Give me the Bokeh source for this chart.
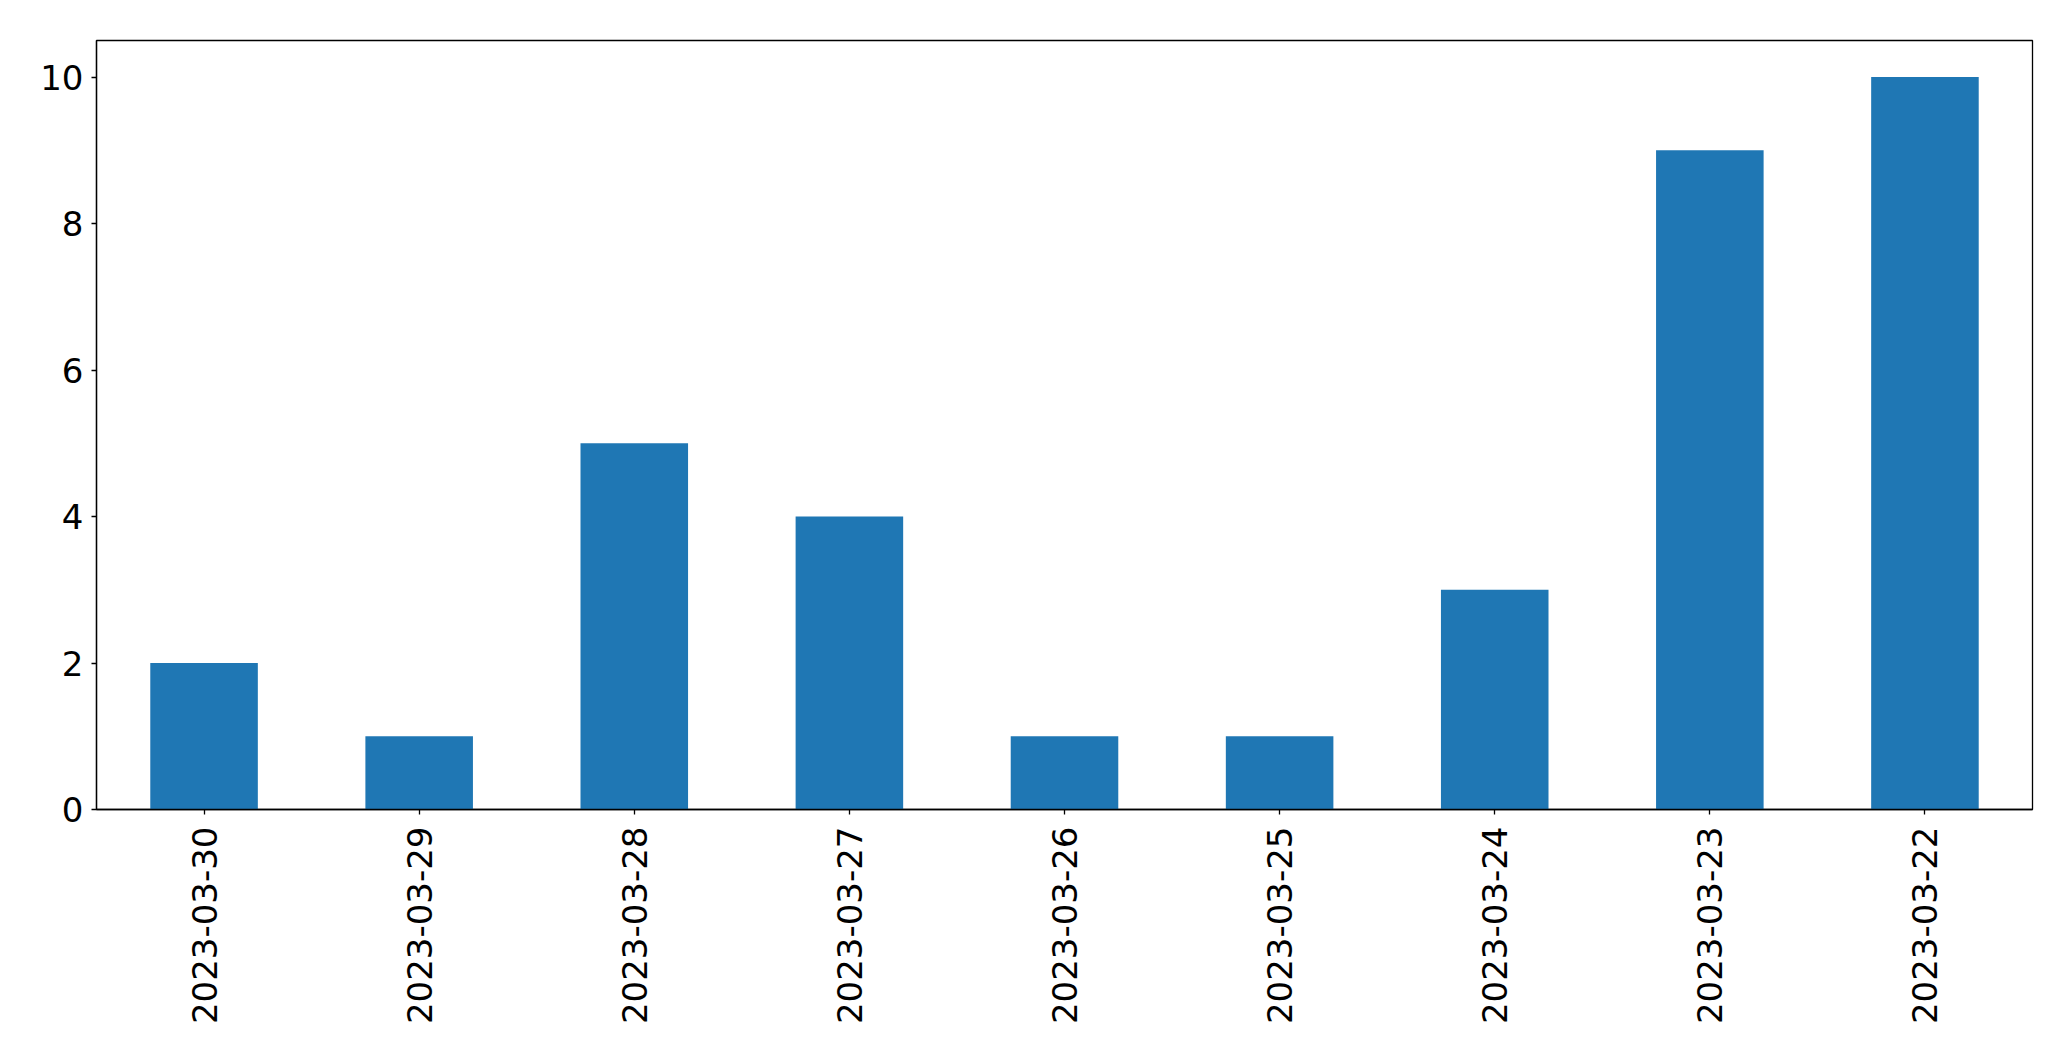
import math
from bokeh.plotting import figure
from bokeh.models import FactorRange, Range1d, FixedTicker, ColumnDataSource
from bokeh.embed import file_html
from bokeh.resources import INLINE

dates = ["2023-03-30", "2023-03-29", "2023-03-28", "2023-03-27", "2023-03-26",
         "2023-03-25", "2023-03-24", "2023-03-23", "2023-03-22"]
counts = [2, 1, 5, 4, 1, 1, 3, 9, 10]
y_ticks = [0, 2, 4, 6, 8, 10]

src = ColumnDataSource(dict(x=dates, top=counts))

p = figure(width=2063, height=1053, output_backend="svg", toolbar_location=None,
           x_range=FactorRange(*dates, range_padding=0),
           y_range=Range1d(0, 10.5),
           min_border_left=96, min_border_top=40, min_border_right=31, min_border_bottom=244)

p.vbar(x="x", top="top", width=0.5, bottom=0, source=src, color="#1f77b4", line_color=None)

p.xgrid.grid_line_color = None
p.ygrid.grid_line_color = None
p.outline_line_color = "black"
p.outline_line_width = 1.3
p.background_fill_color = "white"
p.border_fill_color = "white"

for ax in (p.xaxis[0], p.yaxis[0]):
    ax.axis_line_color = "black"
    ax.axis_line_width = 1.3
    ax.major_tick_line_color = "black"
    ax.major_tick_line_width = 1.3
    ax.major_tick_out = 5
    ax.major_tick_in = 0
    ax.minor_tick_line_color = None
    ax.major_label_text_font = "DejaVu Sans"
    ax.major_label_text_font_size = "34px"
    ax.major_label_text_color = "black"

p.yaxis.ticker = FixedTicker(ticks=y_ticks)
p.yaxis.major_label_standoff = 8
p.xaxis.major_label_orientation = math.pi / 2
p.xaxis.major_label_standoff = 12
p.xaxis.group_text_font_size = "0px"

open("out.html", "w").write(file_html(p, INLINE))
